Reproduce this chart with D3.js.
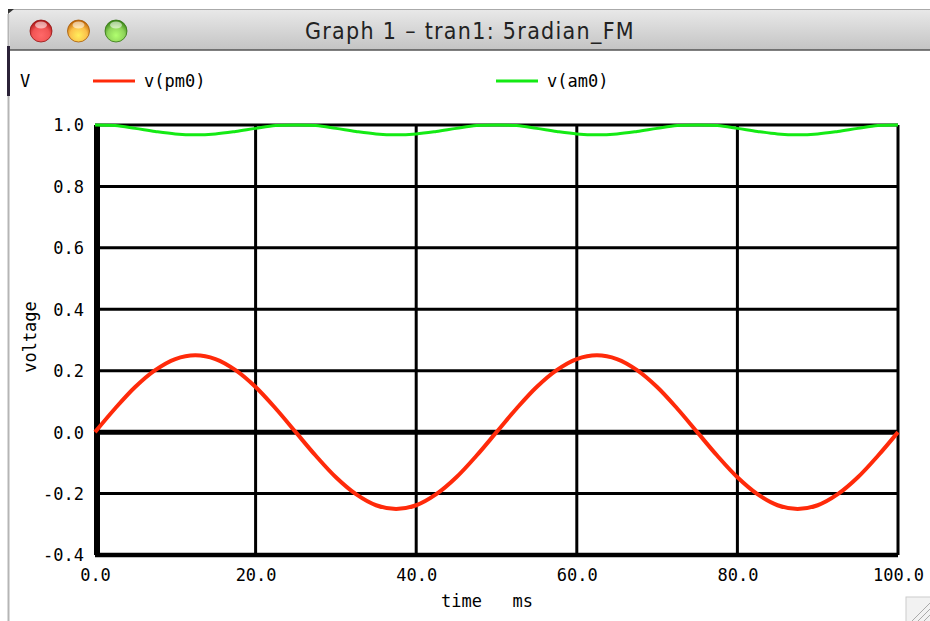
<!DOCTYPE html>
<html>
<head>
<meta charset="utf-8">
<script src="https://cdn.jsdelivr.net/npm/d3@7"></script>
<style>
  body { margin:0; background:#fff; }
  svg { display:block; }
</style>
</head>
<body>
<script>

var time = [0,2.5,5,7.5,10,12.5,15,17.5,20,22.5,25,27.5,30,32.5,35,37.5,40,42.5,45,47.5,
            50,52.5,55,57.5,60,62.5,65,67.5,70,72.5,75,77.5,80,82.5,85,87.5,90,92.5,95,97.5,100];
var pm0 = [0,0.077,0.147,0.202,0.238,0.25,0.238,0.202,0.147,0.077,
           0,-0.077,-0.147,-0.202,-0.238,-0.25,-0.238,-0.202,-0.147,-0.077,
           0,0.077,0.147,0.202,0.238,0.25,0.238,0.202,0.147,0.077,
           0,-0.077,-0.147,-0.202,-0.238,-0.25,-0.238,-0.202,-0.147,-0.077,0];
var am0 = [1,0.998,0.989,0.979,0.971,0.968,0.971,0.979,0.989,0.998,
           1,0.998,0.989,0.979,0.971,0.968,0.971,0.979,0.989,0.998,
           1,0.998,0.989,0.979,0.971,0.968,0.971,0.979,0.989,0.998,
           1,0.998,0.989,0.979,0.971,0.968,0.971,0.979,0.989,0.998,1];
var xTicks = [0,20,40,60,80,100];
var yTicks = [-0.4,-0.2,0,0.2,0.4,0.6,0.8,1.0];

var W = 930, H = 621;
var mono = "'DejaVu Sans Mono', monospace";

var svg = d3.select("body").append("svg")
  .attr("width", W)
  .attr("height", H);

// ---- window chrome ----
var defs = svg.append("defs");
var bar = defs.append("linearGradient").attr("id","bar").attr("x1",0).attr("y1",0).attr("x2",0).attr("y2",1);
bar.append("stop").attr("offset","0%").attr("stop-color","#e9e9e9");
bar.append("stop").attr("offset","100%").attr("stop-color","#c4c4c4");

svg.append("rect").attr("x",10).attr("y",9).attr("width",W-10).attr("height",41).style("fill","url(#bar)");
svg.append("line").attr("x1",10).attr("x2",W).attr("y1",9.5).attr("y2",9.5).style("stroke","#aaa");
svg.append("line").attr("x1",10).attr("x2",W).attr("y1",50).attr("y2",50).style("stroke","#555").style("stroke-width",1.5);
svg.append("path").attr("d","M8,9 L14,9 L8,14 Z").style("fill","#333");

// left window edge
svg.append("line").attr("x1",8.5).attr("x2",8.5).attr("y1",14).attr("y2",H).style("stroke","#b5b5b5").style("stroke-width",2);
svg.append("line").attr("x1",8.5).attr("x2",8.5).attr("y1",46).attr("y2",96).style("stroke","#2b2238").style("stroke-width",3);

var lights = [["#f25555","#b01818"],["#fbc04a","#c46a08"],["#8fd45a","#3d8a18"]];
lights.forEach(function(c, i){
  var g = defs.append("radialGradient").attr("id","lt"+i).attr("cx","50%").attr("cy","70%").attr("r","65%");
  g.append("stop").attr("offset","0%").attr("stop-color", d3.color(c[0]).brighter(0.6));
  g.append("stop").attr("offset","60%").attr("stop-color", c[0]);
  g.append("stop").attr("offset","100%").attr("stop-color", c[1]);
  svg.append("circle").attr("cx",41+i*37.5).attr("cy",31).attr("r",11)
    .style("fill","url(#lt"+i+")").style("stroke", d3.color(c[1]).darker(0.5)).style("stroke-width",0.8);
  svg.append("ellipse").attr("cx",41+i*37.5).attr("cy",25).attr("rx",6).attr("ry",3.5)
    .style("fill","#fff").style("opacity",0.55);
});

svg.append("text")
  .attr("x",470).attr("y",39)
  .attr("text-anchor","middle")
  .attr("font-family","'DejaVu Sans Condensed', 'DejaVu Sans', sans-serif")
  .attr("font-stretch","condensed")
  .attr("font-size","23px")
  .attr("letter-spacing","1.3px")
  .attr("fill","#222")
  .text("Graph 1 \u2013 tran1: 5radian_FM");

// resize grip
svg.append("rect").attr("x",906).attr("y",597).attr("width",30).attr("height",30).style("fill","#f2f2f2").style("stroke","#ccc");
[0,6,12].forEach(function(o){
  svg.append("line").attr("x1",912+o).attr("y1",H).attr("x2",W).attr("y2",603+o).style("stroke","#aaa").style("stroke-width",1);
});

// ---- plot ----
var x = d3.scaleLinear().domain([0,100]).range([95,898]);
var y = d3.scaleLinear().domain([-0.4,1.0]).range([555,125]);

var grid = svg.append("g");
grid.selectAll("line.h")
  .data(yTicks)
  .enter().append("line")
  .attr("class","h")
  .attr("x1", x(0)).attr("x2", x(100))
  .attr("y1", function(d){ return y(d); })
  .attr("y2", function(d){ return y(d); })
  .style("stroke","#000")
  .style("stroke-width", function(d){ return d === 0 ? 5 : (d === -0.4 ? 4.5 : 3); });

grid.selectAll("line.v")
  .data(xTicks)
  .enter().append("line")
  .attr("class","v")
  .attr("x1", function(d){ return x(d) + (d === 0 ? 2 : 0); })
  .attr("x2", function(d){ return x(d) + (d === 0 ? 2 : 0); })
  .attr("y1", y(1.0)).attr("y2", y(-0.4))
  .style("stroke","#000")
  .style("stroke-width", function(d){ return d === 0 ? 6 : 3; });

// tick labels through d3 axes, domain/ticks hidden
var yAxis = svg.append("g")
  .attr("transform","translate(84,0)")
  .call(d3.axisLeft(y).tickValues(yTicks).tickSize(0).tickPadding(0).tickFormat(d3.format(".1f")));
var xAxis = svg.append("g")
  .attr("transform","translate(0,567)")
  .call(d3.axisBottom(x).tickValues(xTicks).tickSize(0).tickPadding(0).tickFormat(d3.format(".1f")));
[xAxis, yAxis].forEach(function(a){
  a.select(".domain").remove();
  a.selectAll("text")
    .attr("font-family", mono)
    .attr("font-size","17px")
    .attr("fill","#000");
});
yAxis.selectAll("text").attr("dy","0.35em");
xAxis.selectAll("text").attr("dy","0.8em");
yAxis.selectAll("text").text(function(d){ return d3.format(".1f")(d).replace("\u2212","-"); });

svg.append("text")
  .attr("x",487).attr("y",607)
  .attr("text-anchor","middle")
  .attr("font-family", mono).attr("font-size","17px")
  .attr("xml:space","preserve")
  .text("time   ms");

svg.append("text")
  .attr("transform","translate(36,337) rotate(-90)")
  .attr("text-anchor","middle")
  .attr("font-family", mono).attr("font-size","17px")
  .text("voltage");

// curves
var pmLine = d3.line()
  .x(function(d, i){ return x(time[i]); })
  .y(function(d){ return y(d); })
  .curve(d3.curveCatmullRom);

svg.append("path")
  .datum(am0)
  .attr("d", pmLine)
  .style("fill","none")
  .style("stroke","#14ea14")
  .style("stroke-width",3);

svg.append("path")
  .datum(pm0)
  .attr("d", pmLine)
  .style("fill","none")
  .style("stroke","#ff2a0a")
  .style("stroke-width",4);

// legend
var legend = [["v(pm0)","#ff2a0a",93],["v(am0)","#14ea14",496]];
svg.append("text").attr("x",20).attr("y",87)
  .attr("font-family", mono).attr("font-size","17px").text("V");
legend.forEach(function(l){
  svg.append("line").attr("x1",l[2]).attr("x2",l[2]+42).attr("y1",81).attr("y2",81)
    .style("stroke",l[1]).style("stroke-width",3);
  svg.append("text").attr("x",l[2]+51).attr("y",87)
    .attr("font-family", mono).attr("font-size","17px").text(l[0]);
});

</script>
</body>
</html>
